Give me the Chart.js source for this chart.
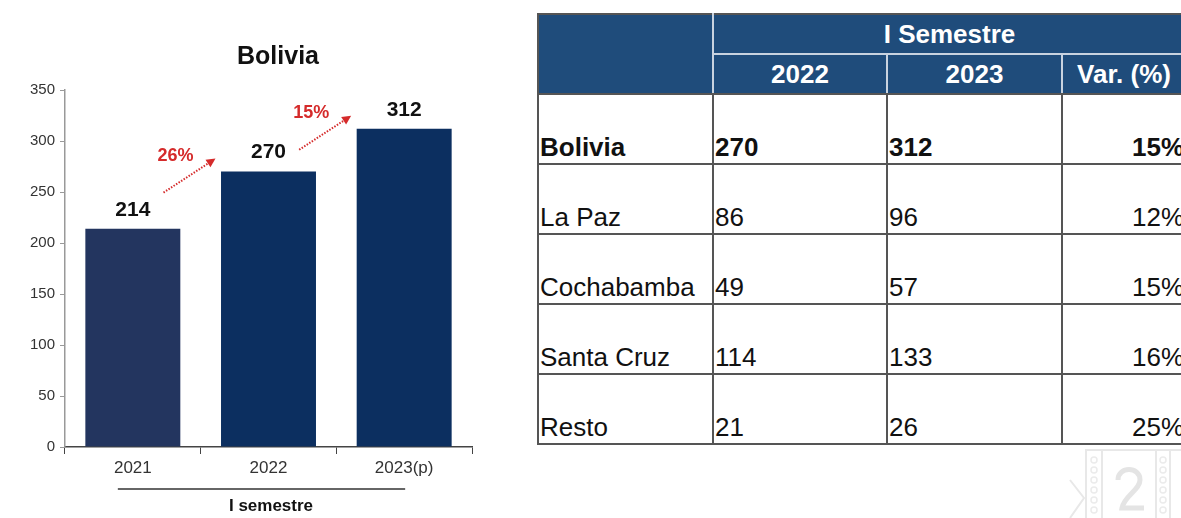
<!DOCTYPE html>
<html>
<head>
<meta charset="utf-8">
<script src="https://cdn.jsdelivr.net/npm/chart.js@4.4.0/dist/chart.umd.min.js"></script>
<style>
  html, body { margin: 0; padding: 0; background: #fff; overflow: hidden; }
  body { width: 1181px; height: 518px; position: relative; font-family: Arial, "Liberation Sans", sans-serif; }
  #chartBox { position: absolute; left: 0; top: 0; width: 490px; height: 518px; }
  #semTable {
    position: absolute; left: 537px; top: 13px;
    border-collapse: collapse; table-layout: fixed;
    font-family: Arial, "Liberation Sans", sans-serif; color: #111;
  }
  #semTable th {
    background: #1f4c7b; color: #fff; font-weight: bold; font-size: 26px;
    height: 38px; padding: 0; text-align: center; vertical-align: middle;
    border: 2px solid #c9d3e0;
  }
  #semTable th.corner { border-left: 2px solid #555; border-top: 2px solid #555; border-bottom: 2px solid #555; }
  #semTable tr.top th { border-top: 2px solid #555; }
  #semTable tr.sub th { border-bottom: 2px solid #555; }
  #semTable td {
    height: 66px; padding: 0 1px 2px 1px; font-size: 26px; line-height: 28px; vertical-align: bottom;
    border: 2px solid #555; white-space: nowrap; overflow: hidden;
  }
  #semTable td.pct { text-align: right; }
  #semTable tr.total td { font-weight: bold; }
  #stamp { position: absolute; left: 1066px; top: 446px; }
</style>
</head>
<body>
<div id="chartBox"><canvas id="boliviaChart" width="490" height="518"></canvas></div>
<table id="semTable"></table>
<svg id="stamp" width="120" height="72" viewBox="0 0 120 72">
  <g fill="none" stroke="#e8e8e8" stroke-width="2">
    <path d="M4 72 L18 52 L4 34"/>
    <rect x="20" y="4" width="96" height="70"/>
    <line x1="36" y1="4" x2="36" y2="72"/>
    <line x1="90" y1="4" x2="90" y2="72"/>
    <line x1="104" y1="4" x2="104" y2="72"/>
  </g>
  <path d="M52 34 C52 20 74 20 74 34 C74 44 58 50 56 62 L78 62" fill="none" stroke="#e4e4e4" stroke-width="5"/>
  <g fill="none" stroke="#ebebeb" stroke-width="1.5">
    <circle cx="28" cy="14" r="3"/><circle cx="28" cy="24" r="3"/><circle cx="28" cy="34" r="3"/>
    <circle cx="28" cy="44" r="3"/><circle cx="28" cy="54" r="3"/><circle cx="28" cy="64" r="3"/>
    <circle cx="97" cy="14" r="3"/><circle cx="97" cy="24" r="3"/><circle cx="97" cy="34" r="3"/>
    <circle cx="97" cy="44" r="3"/><circle cx="97" cy="54" r="3"/><circle cx="97" cy="64" r="3"/>
  </g>
</svg>
<script>
// Bolivia, first semester totals
const years = ['2021', '2022', '2023(p)'];
const totals = [214, 270, 312];
const growthLabels = ['26%', '15%'];
const yMin = 0, yMax = 350, yStep = 50;

// regional breakdown for the table
const regions = ['Bolivia', 'La Paz', 'Cochabamba', 'Santa Cruz', 'Resto'];
const sem2022 = [270, 86, 49, 114, 21];
const sem2023 = [312, 96, 57, 133, 26];
const variation = ['15%', '12%', '15%', '16%', '25%'];
const tableYears = ['2022', '2023', 'Var. (%)'];

const barColors = ['#23355f', '#0c2f60', '#0c2f60'];
const red = '#d52b2b';

// title, value labels, growth arrows and the "I semestre" bracket
const annotations = {
    id: 'annotations',
    afterDraw(chart) {
        const ctx = chart.ctx;
        const bars = chart.getDatasetMeta(0).data;
        const xs = chart.scales.x;

        ctx.save();
        ctx.fillStyle = '#111';
        ctx.textAlign = 'center';
        ctx.textBaseline = 'middle';
        ctx.font = 'bold 25px Arial, "Liberation Sans"';
        ctx.fillText('Bolivia', 278, 57);

        ctx.font = 'bold 21px Arial, "Liberation Sans"';
        bars.forEach((bar, i) => {
            ctx.fillText(String(totals[i]), bar.x, bar.y - 19);
        });

        // dotted growth arrows between consecutive bars
        growthLabels.forEach((label, i) => {
            const next = bars[i + 1];
            const ex = next.x - 53, ey = next.y - 13;
            const sx = ex - 52, sy = ey + 34;
            ctx.strokeStyle = red;
            ctx.lineWidth = 2;
            ctx.setLineDash([1.5, 1.5]);
            ctx.beginPath();
            ctx.moveTo(sx, sy);
            ctx.lineTo(ex - 5, ey + 3.3);
            ctx.stroke();
            ctx.setLineDash([]);
            const a = Math.atan2(ey - sy, ex - sx);
            ctx.fillStyle = red;
            ctx.beginPath();
            ctx.moveTo(ex, ey);
            ctx.lineTo(ex - 9 * Math.cos(a) + 4.5 * Math.sin(a), ey - 9 * Math.sin(a) - 4.5 * Math.cos(a));
            ctx.lineTo(ex - 9 * Math.cos(a) - 4.5 * Math.sin(a), ey - 9 * Math.sin(a) + 4.5 * Math.cos(a));
            ctx.closePath();
            ctx.fill();
            ctx.font = 'bold 18px Arial, "Liberation Sans"';
            ctx.fillText(label, ex - 40, ey - 3);
        });

        // bracket under the year labels
        const left = xs.getPixelForValue(0) - 15;
        const right = xs.getPixelForValue(years.length - 1) + 1;
        ctx.strokeStyle = '#333';
        ctx.lineWidth = 1.5;
        ctx.beginPath();
        ctx.moveTo(left, 489);
        ctx.lineTo(right, 489);
        ctx.stroke();
        ctx.fillStyle = '#111';
        ctx.font = 'bold 17px Arial, "Liberation Sans"';
        ctx.fillText('I semestre', 271, 506);
        ctx.restore();
    }
};

new Chart(document.getElementById('boliviaChart'), {
    type: 'bar',
    data: {
        labels: years,
        datasets: [{
            data: totals,
            backgroundColor: barColors,
            borderColor: barColors,
            borderWidth: 0,
            categoryPercentage: 1,
            barPercentage: 0.7
        }]
    },
    options: {
        responsive: false,
        animation: false,
        devicePixelRatio: 1,
        layout: { padding: { top: 90, left: 20, right: 18, bottom: 0 } },
        plugins: {
            legend: { display: false },
            tooltip: { enabled: false },
            title: { display: false }
        },
        scales: {
            x: {
                offset: true,
                grid: { drawOnChartArea: false, tickLength: 7, color: '#444', offset: true },
                border: { color: '#444', width: 1.5 },
                ticks: { color: '#333', font: { size: 17, family: 'Arial, "Liberation Sans"' }, padding: 4 },
                afterFit(scale) { scale.height = 71; }
            },
            y: {
                min: yMin,
                max: yMax,
                ticks: { stepSize: yStep, color: '#333', font: { size: 15, family: 'Arial, "Liberation Sans"' }, padding: 5 },
                grid: { drawOnChartArea: false, tickLength: 5, color: '#999' },
                border: { color: '#999', width: 1.5 },
                afterFit(scale) { scale.width = 45; }
            }
        }
    },
    plugins: [annotations]
});

// table built from the arrays above
const table = document.getElementById('semTable');
const colWidths = [175, 174, 175, 124];
table.innerHTML =
    '<colgroup>' + colWidths.map(w => `<col style="width:${w}px">`).join('') + '</colgroup>' +
    '<tr class="top"><th class="corner" rowspan="2"></th><th colspan="3">I Semestre</th></tr>' +
    '<tr class="sub">' + tableYears.map(t => `<th>${t}</th>`).join('') + '</tr>' +
    regions.map((r, i) =>
        `<tr class="${i === 0 ? 'total' : ''}"><td>${r}</td><td>${sem2022[i]}</td><td>${sem2023[i]}</td><td class="pct">${variation[i]}</td></tr>`
    ).join('');
table.style.width = colWidths.reduce((a, b) => a + b, 0) + 'px';
</script>
</body>
</html>
